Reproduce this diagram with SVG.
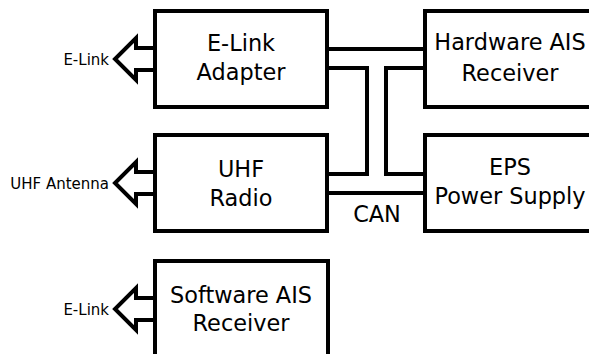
<svg xmlns="http://www.w3.org/2000/svg" width="589" height="354" viewBox="0 0 589 354">
<style>
.box{fill:#fff;stroke:#000;stroke-width:4}
.t{font-family:"DejaVu Sans",sans-serif;font-size:22.4px;fill:#000;text-anchor:middle}
.s{font-family:"DejaVu Sans",sans-serif;font-size:15px;fill:#000;text-anchor:end}
.w{fill:none;stroke:#000;stroke-width:4;stroke-linejoin:miter}
</style>
<rect width="589" height="354" fill="#fff"/>
<g id="connectors">
<polyline class="w" points="327,49 425,49"/>
<polyline class="w" points="327,68 367,68 367,174 327,174"/>
<polyline class="w" points="425,68 386,68 386,174 425,174"/>
<polyline class="w" points="327,193 425,193"/>
</g>
<g id="elink-adapter">
<rect class="box" x="155" y="11" width="172" height="96"/>
<text class="t" x="241" y="51">E-Link</text>
<text class="t" x="241" y="80">Adapter</text>
<polyline class="w" points="155,48 136,48 136,38 115,59 136,80 136,70 155,70"/>
<text class="s" x="109" y="65">E-Link</text>
</g>
<g id="hw-ais">
<rect class="box" x="425" y="11" width="172" height="96"/>
<text class="t" x="510" y="50">Hardware AIS</text>
<text class="t" x="510" y="81">Receiver</text>
</g>
<g id="uhf-radio">
<rect class="box" x="155" y="135" width="172" height="96"/>
<text class="t" x="241" y="177">UHF</text>
<text class="t" x="241" y="206">Radio</text>
<polyline class="w" points="155,172 136,172 136,162 115,183 136,204 136,194 155,194"/>
<text class="s" x="109" y="189">UHF Antenna</text>
</g>
<g id="eps">
<rect class="box" x="425" y="135" width="172" height="96"/>
<text class="t" x="510" y="175">EPS</text>
<text class="t" x="510" y="204">Power Supply</text>
</g>
<g id="can-label">
<text class="t" x="377" y="222">CAN</text>
</g>
<g id="sw-ais">
<rect class="box" x="155" y="261" width="173" height="110"/>
<text class="t" x="241" y="303">Software AIS</text>
<text class="t" x="241" y="331">Receiver</text>
<polyline class="w" points="155,298 136,298 136,288 115,309 136,330 136,320 155,320"/>
<text class="s" x="109" y="315">E-Link</text>
</g>
</svg>
